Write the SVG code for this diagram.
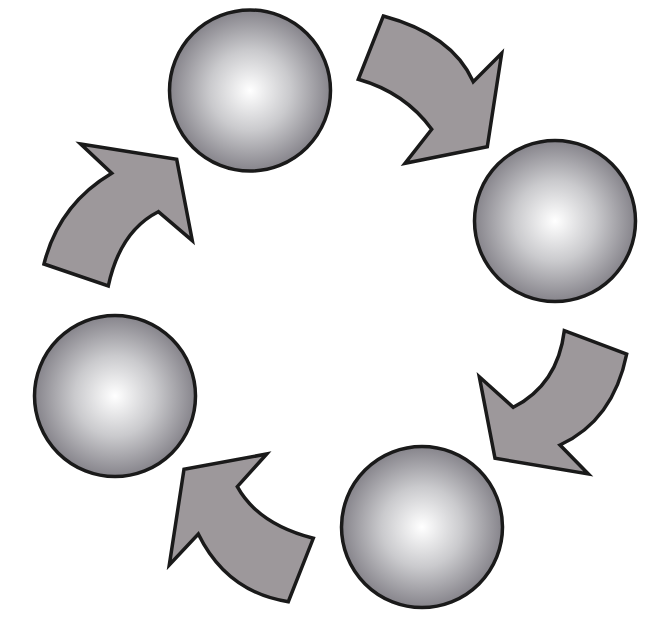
<svg xmlns="http://www.w3.org/2000/svg" width="671" height="618" viewBox="0 0 671 618">
<defs>
<radialGradient id="ball" cx="0.5" cy="0.5" r="0.5">
<stop offset="0" stop-color="#ffffff"/>
<stop offset="0.5" stop-color="#cacacd"/>
<stop offset="1" stop-color="#86848b"/>
</radialGradient>
<style>
.ball{fill:url(#ball);stroke:#1a1a1a;stroke-width:3.5}
.arrow{fill:#9d989b;stroke:#1a1a1a;stroke-width:3.5;stroke-linejoin:miter}
</style>
</defs>
<rect width="671" height="618" fill="#ffffff"/>
<g id="node1"><circle class="ball" cx="250" cy="90.5" r="80.5"/></g>
<g id="node2"><circle class="ball" cx="555" cy="221" r="80.5"/></g>
<g id="node3"><circle class="ball" cx="422" cy="527" r="80.5"/></g>
<g id="node4"><circle class="ball" cx="115" cy="396" r="80.5"/></g>
<g id="connectors">
<path class="arrow" d="M383.3,16 Q452,34.4 473.3,81.7 L501.7,53.3 L487.3,146.7 L405,163.3 L431.7,129.3 Q405,92.6 358.3,79.3 Z"/>
<path class="arrow" d="M564.3,330.7 L626.7,354 Q613.3,420.5 560,445 L588.3,474 L495,458.3 L479.3,376.7 L513.3,407.3 Q557.8,384.4 564.3,330.7 Z"/>
<path class="arrow" d="M266.7,454 L237.3,486.7 Q258,524.1 313.3,538.3 L288.3,601.7 Q226.7,592.1 198.3,534 L169.3,565 L184,469.3 Z"/>
<path class="arrow" d="M80.7,144 L176.7,159.3 L192.3,240.7 L158.3,211.7 Q120,231.1 108.3,286 L44,264 Q58.8,204.7 111.7,173.3 Z"/>
</g>
</svg>
